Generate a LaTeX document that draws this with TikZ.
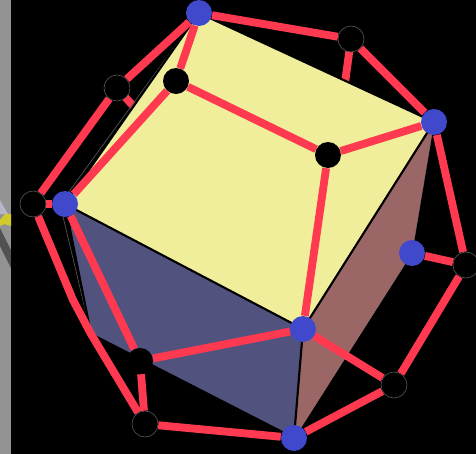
\documentclass[tikz,border=0pt]{standalone}
\pgfdeclarelayer{bg}\pgfdeclarelayer{faces}\pgfdeclarelayer{edges}
\pgfsetlayers{bg,faces,edges,main}
\definecolor{yface}{HTML}{F0EE9A}
\definecolor{pface}{HTML}{52527E}
\definecolor{bface}{HTML}{9B6666}
\definecolor{redline}{HTML}{FF3A50}
\definecolor{bluedot}{HTML}{4048CC}
\definecolor{outl}{HTML}{555555}
\tikzset{
  dot/.style={circle,inner sep=0pt,minimum size=19.5pt},
  bdot/.style={dot,fill=bluedot},
  kdot/.style={dot,fill=black},
  kodot/.style={dot,fill=black,draw=outl,line width=0.5pt},
  redge/.style={draw=redline,line width=5.9pt,line join=round},
  face/.style={draw=black,line width=1.6pt,line join=miter},
  rim/.style={draw=outl,line width=0.5pt}
}
\begin{document}
\begin{tikzpicture}[x=0.75pt,y=-0.75pt]
\useasboundingbox (0,0) rectangle (476,454);
\clip (0,0) rectangle (476,454);
\node[bdot] (A) at (199,13) {};
\node[bdot] (B) at (434,122) {};
\node[bdot] (C) at (303,329) {};
\node[bdot] (D) at (65,204) {};
\node[bdot] (E) at (294,438) {};
\node[bdot] (F) at (412,253) {};
\node[kodot] (a) at (351,39) {};
\node[kodot] (b) at (117,88) {};
\node[kdot] (c) at (176,81) {};
\node[kdot] (d) at (328,155) {};
\node[kodot] (e) at (33,204) {};
\node[kodot] (f) at (466,265) {};
\node[kodot] (g) at (394,385) {};
\node[kdot] (h) at (140,361) {};
\node[kodot] (i) at (145,424) {};
\coordinate (p) at (91,334);
\coordinate (r) at (73,300);
\coordinate (u) at (344,90);
\coordinate (v) at (135,108);
\coordinate (q) at (301,428);
\begin{pgfonlayer}{bg}
  \fill[black] (0,0) rectangle (476,454);
  \fill[gray!85!white] (0,0) rectangle (11,454);
  \fill[gray!30!black, opacity=0.6] (0,228) -- (11,250) -- (11,268) -- (0,246) -- cycle;
  \fill[blue!15!gray!50!white] (0,200) -- (8,214) -- (0,214) -- cycle;
  \fill[yellow!80!black] (0,220) -- (5,214) -- (11,214) -- (11,226) -- (4,224) -- (0,226) -- cycle;
  \draw[redge] (a.center) -- (u);
  \draw[redge] (b.center) -- (v);
\end{pgfonlayer}
\begin{pgfonlayer}{faces}
  \draw[rim] (A.center) -- (60,204) -- (p) -- (E.center) -- (F.center) -- (B.center) -- cycle;
  \fill[bface] (B.center) -- (C.center) -- (E.center) -- (q) -- (F.center) -- cycle;
  \fill[pface] (D.center) -- (C.center) -- (E.center) -- (p) -- cycle;
  \fill[yface] (A.center) -- (B.center) -- (C.center) -- (D.center) -- cycle;
  \draw[face] (A.center) -- (B.center) -- (C.center) -- (D.center) -- cycle;
  \draw[face] (C.center) -- (E.center);
  \draw[face] (D.center) -- (p) -- (E.center);
\end{pgfonlayer}
\begin{pgfonlayer}{edges}
  \draw[redge] (A) -- (a);
  \draw[redge] (a) -- (B);
  \draw[redge] (A) -- (b);
  \draw[redge] (b) -- (e);
  \draw[redge] (A) -- (c);
  \draw[redge] (c) -- (D);
  \draw[redge] (c) -- (d);
  \draw[redge] (d) -- (B);
  \draw[redge] (d) -- (C);
  \draw[redge] (D) -- (e);
  \draw[redge] (D) -- (h);
  \draw[redge] (h) -- (C);
  \draw[redge] (h) -- (i);
  \draw[redge] (C) -- (g);
  \draw[redge] (g) -- (f);
  \draw[redge] (g) -- (E);
  \draw[redge] (f) -- (B);
  \draw[redge] (f) -- (F);
  \draw[redge] (e) -- (r) -- (p) -- (i);
  \draw[redge] (i) -- (E);
\end{pgfonlayer}
\end{tikzpicture}
\end{document}
